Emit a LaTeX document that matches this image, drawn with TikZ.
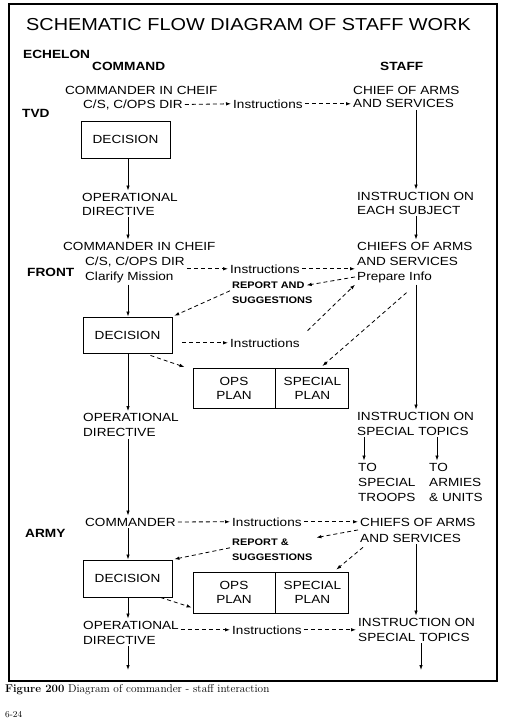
\documentclass[tikz,border=0pt]{standalone}
\usepackage{fontspec}
\usepackage{tikz}
\usetikzlibrary{arrows.meta,positioning,calc}
\newfontfamily\flowfont[FakeStretch=1.15]{Liberation Sans}

\begin{document}
\begin{tikzpicture}[x=1pt, y=-1pt,
  font=\flowfont\fontsize{11.8}{15}\selectfont,
  txt/.style={inner sep=2pt, anchor=base west, align=left},
  lbl/.style={txt, font=\flowfont\bfseries\fontsize{11.9}{14}\selectfont},
  note/.style={txt, font=\flowfont\bfseries\fontsize{9.5}{12}\selectfont},
  decbox/.style={draw, line width=0.9pt, minimum width=89pt, minimum height=37pt},
  plancell/.style={draw, line width=0.9pt, minimum height=40pt, align=center, inner sep=0pt},
  flow/.style={-{Latex[length=5pt,width=3.5pt]}, line width=0.8pt},
  dflow/.style={flow, dash pattern=on 4pt off 3pt}]
  \useasboundingbox (0,0) rectangle (504,720);

  % Frame
  \draw[line width=1.3pt] (9,4) rectangle (497,681);

  % Title and heads
  \node[anchor=base, font=\flowfont\fontsize{17.3}{20}\selectfont] (title) at (248.5,30) {SCHEMATIC FLOW DIAGRAM OF STAFF WORK};
  \node[lbl] (ech) at (21,58) {ECHELON};
  \node[lbl] (cmd) at (90,70) {COMMAND};
  \node[lbl] (stf) at (378,70) {STAFF};

  % Column lines
  \coordinate (Lx) at (128,0);
  \coordinate (Rx) at (416,0);
  \coordinate (T1x) at (364,0);
  \coordinate (T2x) at (437,0);

  % TVD
  \node[lbl] (tvd) at (20,117) {TVD};
  \node[txt] (cic1) at (63,94) {COMMANDER IN CHEIF};
  \node[txt] (csd1) at (81,108) {C/S, C/OPS DIR};
  \node[txt] (ins1) at (231,108) {Instructions};
  \node[txt] (cas1) at (351,107.5) {CHIEF OF ARMS\\[-1.5pt]AND SERVICES};
  \node[decbox] (dec1) at (125.5,139.5) {DECISION};
  \node[txt] (opd1) at (80,215) {OPERATIONAL\\[-1pt]DIRECTIVE};
  \node[txt] (ies1) at (355,214) {INSTRUCTION ON\\[-1pt]EACH SUBJECT};

  \draw[dflow] (csd1.east) -- (ins1.west);
  \draw[dflow] (ins1.east) -- (cas1.west |- ins1.east);
  \draw[flow] (Lx |- dec1.south) -- (Lx |- opd1.north);
  \draw[flow] (Rx |- cas1.south) -- (Rx |- ies1.north);

  % FRONT
  \node[lbl] (frt) at (25,276) {FRONT};
  \node[txt] (cic2) at (61,250) {COMMANDER IN CHEIF};
  \node[txt] (csd2) at (83,280) {C/S, C/OPS DIR\\Clarify Mission};
  \node[txt] (ins2) at (228,273) {Instructions};
  \node[note] (rep2a) at (230,288.5) {REPORT AND};
  \node[note] (rep2b) at (230,303) {SUGGESTIONS};
  \node[txt] (cas2) at (355,265) {CHIEFS OF ARMS\\AND SERVICES};
  \node[txt] (pri2) at (355,280) {Prepare Info};
  \node[decbox, minimum height=36pt] (dec2) at (127.5,335) {DECISION};
  \node[txt] (ins3) at (228,347) {Instructions};
  \node[plancell, minimum width=82pt] (ops2) at (234,388.5) {OPS\\[-1.5pt]PLAN};
  \node[plancell, minimum width=73pt, right=0pt of ops2] (spc2) {SPECIAL\\[-1.5pt]PLAN};
  \node[txt] (opd2) at (81,436.5) {OPERATIONAL\\DIRECTIVE};
  \node[txt] (isp2) at (355,435) {INSTRUCTION ON\\SPECIAL TOPICS};
  \node[txt] (to1) at (356,501) {TO\\SPECIAL\\TROOPS};
  \node[txt] (to2) at (427,501) {TO\\ARMIES\\\& UNITS};

  \draw[flow] (Lx |- opd1.south) -- (Lx |- cic2.north);
  \draw[flow] (Rx |- ies1.south) -- (Rx |- cas2.north);
  \draw[flow] (Lx |- csd2.south) -- (Lx |- dec2.north);
  \draw[flow] (Lx |- dec2.south) -- (Lx |- opd2.north);
  \draw[flow] (Rx |- pri2.south) -- (Rx |- isp2.north);
  \draw[flow] (T1x |- isp2.south) -- (T1x |- to1.north);
  \draw[flow] (T2x |- isp2.south) -- (T2x |- to2.north);
  \draw[dflow] (csd2.east |- ins2.west) -- (ins2.west);
  \draw[dflow] (ins2.east) -- (cas2.west |- ins2.east);
  \draw[dflow] (pri2.west) -- (rep2a.east);
  \draw[dflow, shorten >=2pt] (rep2a.south west) -- (dec2.north east);
  \draw[dflow, shorten <=8pt] (ins3.north east) -- (pri2.south west);
  \draw[dflow] ($(pri2.south)+(12,8)$) -- ($(spc2.north)+(10,-2)$);
  \draw[dflow, shorten <=10pt] (dec2.east |- ins3.west) -- (ins3.west);
  \draw[dflow] ($(dec2.south east)+(-22,2)$) -- ($(ops2.north west)+(-8,-1)$);

  % ARMY
  \node[lbl] (army) at (23,537) {ARMY};
  \node[txt] (cmd3) at (83,526) {COMMANDER};
  \node[txt] (ins4) at (230,526) {Instructions};
  \node[txt] (cas3) at (358,542) {CHIEFS OF ARMS\\[1pt]AND SERVICES};
  \node[note] (rep3a) at (230,545.5) {REPORT \&};
  \node[note] (rep3b) at (230,560) {SUGGESTIONS};
  \node[decbox] (dec3) at (127.5,578.5) {DECISION};
  \node[plancell, minimum width=82pt, minimum height=41pt] (ops3) at (234,592.5) {OPS\\[-1.5pt]PLAN};
  \node[plancell, minimum width=73pt, minimum height=41pt, right=0pt of ops3] (spc3) {SPECIAL\\[-1.5pt]PLAN};
  \node[txt] (opd3) at (81,644) {OPERATIONAL\\DIRECTIVE};
  \node[txt] (ins5) at (230,634) {Instructions};
  \node[txt] (isp3) at (356,641) {INSTRUCTION ON\\SPECIAL TOPICS};
  \coordinate (endL) at (128,670);
  \coordinate (endR) at (421,670);

  \draw[flow] (Lx |- opd2.south) -- (Lx |- cmd3.north);
  \draw[flow] (Lx |- cmd3.south) -- (Lx |- dec3.north);
  \draw[flow] (Lx |- dec3.south) -- (Lx |- opd3.north);
  \draw[flow] (Lx |- opd3.south) -- (endL);
  \draw[flow] (Rx |- cas3.south) -- (Rx |- isp3.north);
  \draw[flow] (endR |- isp3.south) -- (endR);
  \draw[dflow] (cmd3.east) -- (ins4.west);
  \draw[dflow] (ins4.east) -- (cas3.west |- ins4.east);
  \draw[dflow, shorten >=26pt] (cas3.west) -- (rep3a.east);
  \draw[dflow, shorten >=2pt] (rep3a.south west) -- (dec3.north east);
  \draw[dflow] ($(cas3.south west)+(5,3)$) -- ($(spc3.north east)+(-13,-2)$);
  \draw[dflow] ($(dec3.south east)+(-12,0)$) -- ($(ops3.south west)+(-1,-6)$);
  \draw[dflow] (opd3.east |- ins5.west) -- (ins5.west);
  \draw[dflow] (ins5.east) -- (isp3.west |- ins5.east);

  % Caption
  \node[anchor=base west, inner sep=0pt, font=\rmfamily\fontsize{11.3}{13}\selectfont] (cap) at (5,692) {\textbf{Figure 200} Diagram of commander - staff interaction};
  \node[anchor=base west, inner sep=0pt, font=\rmfamily\fontsize{9}{10}\selectfont] (pg) at (5,717) {6-24};
\end{tikzpicture}
\end{document}
